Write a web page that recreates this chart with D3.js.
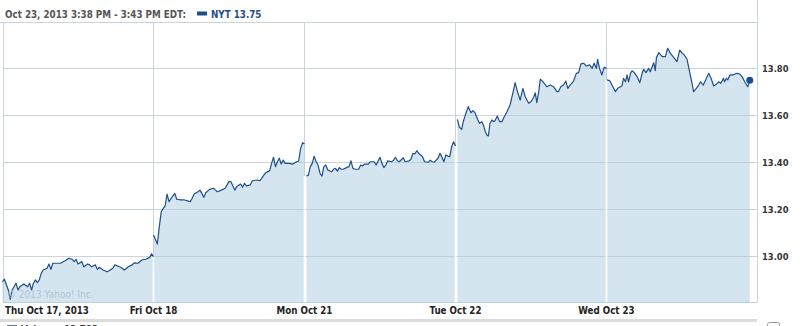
<!DOCTYPE html>
<html><head><meta charset="utf-8">
<script src="https://cdn.jsdelivr.net/npm/d3@7/dist/d3.min.js"></script>
<style>body{margin:0;background:#fff}svg{display:block}</style>
</head><body><svg id="c" width="803" height="326"></svg>
<script>
// ---- data ----
const dayLabels = ["Thu Oct 17, 2013","Fri Oct 18","Mon Oct 21","Tue Oct 22","Wed Oct 23"];
const yTicks = [13.00,13.20,13.40,13.60,13.80];
const headerText = "Oct 23, 2013 3:38 PM - 3:43 PM EDT:";
const legendText = "NYT 13.75";
// minutes after 9:30 open, and price, per trading day
const day1Min = [0,5,15,20,25,35,40,45,55,65,70,75,80,85,90,95,100,105,115,120,125,130,150,165,170,180,185,190,195,205,210,220,225,230,240,245,250,260,270,275,285,290,305,315,325,335,340,350,360,370,380,385,390];
const day1Px  = [12.890,12.901,12.855,12.815,12.855,12.884,12.855,12.869,12.881,12.869,12.884,12.855,12.884,12.898,12.886,12.898,12.926,12.940,12.948,12.966,12.943,12.969,12.969,12.983,12.990,12.986,12.976,12.986,12.966,12.976,12.954,12.966,12.962,12.954,12.962,12.943,12.952,12.940,12.933,12.937,12.948,12.962,12.952,12.940,12.954,12.962,12.971,12.969,12.983,12.986,12.994,13.009,12.997];
const day2Min = [0,10,15,20,25,30,35,40,50,55,60,70,80,95,100,105,115,120,125,130,135,145,155,160,165,175,185,195,200,210,215,225,230,235,240,250,255,270,275,285,290,300,305,310,315,320,325,330,335,340,350,360,370,375,380,385,390];
const day2Px  = [13.090,13.051,13.125,13.189,13.203,13.213,13.264,13.232,13.256,13.267,13.242,13.239,13.239,13.232,13.246,13.264,13.274,13.281,13.267,13.250,13.270,13.284,13.289,13.281,13.274,13.281,13.289,13.317,13.317,13.281,13.296,13.307,13.293,13.310,13.299,13.303,13.321,13.324,13.321,13.345,13.355,13.364,13.395,13.421,13.381,13.402,13.417,13.392,13.409,13.395,13.395,13.392,13.402,13.405,13.459,13.483,13.478];
const day3Min = [5,10,15,20,25,30,35,40,45,50,55,60,70,75,80,85,90,95,100,110,115,120,125,130,140,145,150,155,165,170,180,185,195,200,205,210,215,225,230,235,240,245,255,260,270,275,280,285,290,295,305,310,320,325,330,335,345,350,355,360,365,370,375,380,385,390];
const day3Px  = [13.341,13.345,13.381,13.395,13.426,13.402,13.388,13.353,13.341,13.381,13.388,13.367,13.359,13.370,13.374,13.362,13.377,13.370,13.370,13.378,13.381,13.406,13.374,13.370,13.370,13.388,13.384,13.392,13.392,13.402,13.402,13.388,13.421,13.395,13.377,13.388,13.406,13.402,13.409,13.421,13.406,13.402,13.419,13.402,13.406,13.412,13.438,13.435,13.449,13.438,13.423,13.402,13.400,13.409,13.402,13.400,13.417,13.438,13.421,13.402,13.431,13.426,13.423,13.466,13.487,13.469];
const day4Min = [5,10,16,20,27,33,40,45,51,57,62,68,72,77,81,85,89,94,98,102,108,114,120,126,133,141,150,154,160,167,174,180,189,195,202,206,210,215,219,226,236,245,253,262,266,272,279,285,290,296,305,312,318,324,331,338,346,353,358,364,367,372,378,384,390];
const day4Px  = [13.583,13.549,13.540,13.573,13.609,13.637,13.611,13.620,13.609,13.583,13.566,13.573,13.559,13.530,13.516,13.512,13.566,13.580,13.573,13.577,13.597,13.573,13.573,13.594,13.615,13.644,13.708,13.739,13.701,13.665,13.715,13.679,13.651,13.658,13.677,13.696,13.654,13.701,13.754,13.743,13.722,13.729,13.722,13.701,13.701,13.722,13.729,13.746,13.715,13.729,13.746,13.779,13.782,13.819,13.822,13.810,13.815,13.800,13.822,13.800,13.839,13.800,13.772,13.805,13.800];
const day5Min = [1,8,14,23,29,36,40,44,49,53,57,62,66,72,79,86,92,96,102,109,113,118,122,126,129,135,144,152,158,165,172,182,189,196,201,208,212,219,225,232,238,243,250,256,264,270,277,284,290,295,302,305,310,313,319,327,336,344,350,357,362,365,370];
const day5Px  = [13.751,13.748,13.729,13.701,13.715,13.722,13.725,13.758,13.743,13.772,13.743,13.779,13.790,13.782,13.765,13.739,13.779,13.796,13.782,13.800,13.786,13.807,13.824,13.790,13.847,13.867,13.850,13.850,13.886,13.864,13.850,13.829,13.878,13.864,13.857,13.839,13.807,13.751,13.701,13.715,13.729,13.743,13.729,13.751,13.779,13.758,13.725,13.733,13.743,13.736,13.758,13.743,13.758,13.751,13.772,13.772,13.779,13.776,13.765,13.743,13.729,13.722,13.750];

const dayMins = [day1Min, day2Min, day3Min, day4Min, day5Min];
const dayPxs  = [day1Px, day2Px, day3Px, day4Px, day5Px];
const SESSION = 390;

// ---- chart ----
const svg = d3.select("#c");
const FONT = "'DejaVu Sans Condensed','DejaVu Sans',sans-serif";
const lineColor = "#1d4f8b";
const gridColor = "#cad4dd";

const x = d3.scaleLinear().domain([0, SESSION * dayLabels.length]).range([2.5, 757.5]);
const y = d3.scaleLinear().domain([12.8, 14.0]).range([302.9, 21.5]);
const crisp = v => Math.round(v) + 0.5;

const plotL = 3.5, plotR = 757.5, plotT = 22.5, plotB = 302.5;

// header
svg.append("text").attr("x", 5).attr("y", 17.5).attr("font-family", FONT).attr("font-weight", "bold")
  .attr("font-size", 9.75).attr("fill", "#555").text(headerText);
svg.append("rect").attr("x", 197).attr("y", 11.5).attr("width", 10).attr("height", 4).attr("fill", lineColor);
svg.append("text").attr("x", 211).attr("y", 17.5).attr("font-family", FONT).attr("font-weight", "bold")
  .attr("font-size", 9.75).attr("fill", lineColor).text(legendText);

// frame
svg.append("line").attr("x1", 0).attr("x2", plotR).attr("y1", plotT).attr("y2", plotT).attr("stroke", gridColor);
svg.append("line").attr("x1", plotL).attr("x2", plotL).attr("y1", plotT).attr("y2", plotB).attr("stroke", gridColor);
svg.append("line").attr("x1", plotR).attr("x2", plotR).attr("y1", 0).attr("y2", plotB).attr("stroke", gridColor);
svg.append("line").attr("x1", plotL).attr("x2", plotR).attr("y1", plotB).attr("y2", plotB).attr("stroke", gridColor);

// vertical day gridlines
const bounds = d3.range(1, dayLabels.length);
svg.append("g").selectAll("line").data(bounds).join("line")
  .attr("x1", d => crisp(x(d * SESSION)) - 1).attr("x2", d => crisp(x(d * SESSION)) - 1)
  .attr("y1", plotT).attr("y2", plotB).attr("stroke", gridColor);

// horizontal gridlines
svg.append("g").selectAll("line").data(yTicks).join("line")
  .attr("x1", plotL).attr("x2", plotR)
  .attr("y1", d => crisp(y(d))).attr("y2", d => crisp(y(d))).attr("stroke", gridColor);

// area + line per day
const pts = dayMins.map((mins, di) => mins.map((m, i) => ({t: di * SESSION + m, v: dayPxs[di][i]})));
const area = d3.area().x(d => x(d.t)).y0(y(12.8)).y1(d => y(d.v));
const line = d3.line().x(d => x(d.t)).y(d => y(d.v));

svg.append("g").selectAll("path").data(pts).join("path")
  .attr("d", area).attr("fill", "#a9cbe2").attr("fill-opacity", 0.5);

// white separators through the fill at day boundaries
svg.append("g").selectAll("line").data(bounds).join("line")
  .attr("x1", d => crisp(x(d * SESSION)) - 1).attr("x2", d => crisp(x(d * SESSION)) - 1)
  .attr("y1", d => {
    const prev = pts[d - 1][pts[d - 1].length - 1].v, next = pts[d][0].v;
    return y(Math.min(prev, next));
  })
  .attr("y2", plotB - 0.5).attr("stroke", "#fff").attr("stroke-width", 1.6);

svg.append("g").selectAll("path").data(pts).join("path")
  .attr("d", line).attr("fill", "none").attr("stroke", lineColor).attr("stroke-width", 1.2)
  .attr("stroke-linejoin", "round");

// end dot
const last = pts[pts.length - 1][pts[pts.length - 1].length - 1];
svg.append("circle").attr("cx", x(last.t)).attr("cy", y(last.v)).attr("r", 3.5).attr("fill", lineColor);

// watermark
svg.append("text").attr("x", 7).attr("y", 298).attr("font-family", FONT).attr("font-size", 10)
  .attr("fill", "#b3c2ce").text("© 2013 Yahoo! Inc.");

// y-axis labels
svg.append("g").selectAll("text").data(yTicks).join("text")
  .attr("x", 762).attr("y", d => y(d) + 3.5).attr("font-family", FONT).attr("font-weight", "bold")
  .attr("font-size", 9.3).attr("fill", "#333").text(d => d.toFixed(2));

// x-axis day labels
svg.append("g").selectAll("text").data(dayLabels).join("text")
  .attr("x", (d, i) => i === 0 ? 5 : x(i * SESSION))
  .attr("text-anchor", (d, i) => i === 0 ? "start" : "middle")
  .attr("y", 314).attr("font-family", FONT).attr("font-weight", "bold")
  .attr("font-size", 9.7).attr("fill", "#222").text(d => d);

// bottom separator / volume panel header (cut off by the frame edge, as in the original)
svg.append("rect").attr("x", 0).attr("y", 319).attr("width", 757).attr("height", 3).attr("fill", "#dcdcdc");
svg.append("rect").attr("x", 7).attr("y", 325).attr("width", 10).attr("height", 4).attr("fill", "#5a7590");
svg.append("text").attr("x", 21).attr("y", 333).attr("font-family", FONT).attr("font-weight", "bold")
  .attr("font-size", 9.75).attr("fill", "#333").text("Volume: 13,783");
svg.append("rect").attr("x", 767.5).attr("y", 322.5).attr("width", 12).attr("height", 10).attr("rx", 2)
  .attr("fill", "#fff").attr("stroke", "#9a9a9a");
</script></body></html>
